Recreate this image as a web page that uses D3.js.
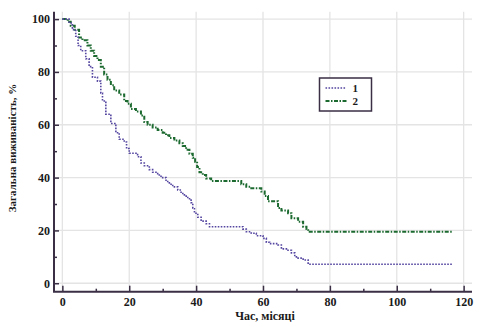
<!DOCTYPE html>
<html><head><meta charset="utf-8">
<script src="https://cdn.jsdelivr.net/npm/d3@7/dist/d3.min.js"></script>
<style>body{margin:0;background:#fff}svg{display:block}</style>
</head><body>
<svg id="c" width="487" height="327"></svg>
<script>
// Series 1 (dotted) step times and survival values
const time1 = [0, 2, 3, 4, 4.7, 5.5, 7, 8, 9, 10.5, 11.5, 12, 13, 14.5, 16, 17, 18.5, 19.2, 20, 22.5, 23.5, 24.5, 26, 27, 28.5, 29.5, 31, 32, 33, 34.5, 35.5, 36.5, 37.5, 38.5, 39, 39.5, 40.5, 41.5, 43, 44, 54, 55, 56.5, 58, 60, 61, 62, 64.5, 65.5, 67, 68.5, 69.5, 70.5, 72, 73.5, 116.5];
const surv1 = [100, 98.5, 96, 93.5, 90, 88, 85, 82, 78, 76.5, 72, 69, 64, 60.5, 57, 54.5, 53.5, 51, 49.2, 47.9, 45.5, 44.5, 43, 42, 41, 40, 38.5, 37.5, 36.5, 35.3, 34, 33, 32, 30.5, 28.5, 26.5, 25, 23.5, 22.5, 21.4, 20.5, 19.5, 18.9, 18, 17, 15.5, 15, 14.5, 13, 12.5, 11.5, 10, 9.5, 8.8, 7.2, 7.2];
// Series 2 (dash-dot)
const time2 = [0, 1.6, 2.5, 3.7, 5, 6, 7.5, 8.5, 9.5, 10.5, 11.5, 12.5, 13.5, 14.5, 15.5, 17, 18.5, 19.5, 20.5, 22, 23.5, 24.5, 25.5, 27, 28.5, 30, 31, 32, 33.5, 35, 36, 37, 38, 39, 39.7, 40.3, 41, 42, 43, 44.5, 53.5, 55, 56.5, 59.5, 60.5, 61.5, 64.5, 65.5, 67.5, 68.5, 70.5, 72, 73, 73.5, 116.5];
const surv2 = [100, 99, 97.5, 96, 93, 92, 90, 88, 86, 84.5, 82, 79, 77, 75, 73, 71.5, 69, 68, 66, 65, 63.5, 61, 60, 59, 58, 57, 56, 55, 54, 53, 52, 50.5, 49, 47.5, 46, 44, 42, 41, 39.7, 38.7, 37.5, 36.5, 36, 34.7, 33, 31, 28.5, 27.5, 26.5, 24.6, 23.3, 21.4, 20.5, 19.5, 19.5];
const seriesNames = ["1", "2"];
const xTicks = [0, 20, 40, 60, 80, 100, 120];
const yTicks = [0, 20, 40, 60, 80, 100];
const xMinor = [10, 30, 50, 70, 90, 110];
const yMinor = [10, 30, 50, 70, 90];
const xTitle = "Час, місяці";
const yTitle = "Загальна виживаність, %";

const svg = d3.select("#c");
const font = "'Liberation Serif','Times New Roman',serif";
const axisCol = "#3a2f45";
const x = d3.scaleLinear().domain([-2.5, 122.5]).range([54, 472]);
const y = d3.scaleLinear().domain([-3.2, 102.8]).range([291.7, 11.7]);

// grid
const grid = svg.append("g");
grid.selectAll("line.v").data(xTicks).join("line")
  .attr("x1", d => x(d)).attr("x2", d => x(d)).attr("y1", y.range()[1]).attr("y2", y.range()[0])
  .attr("stroke", "#e4e4e4").attr("stroke-width", 1.3);
grid.selectAll("line.h").data(yTicks).join("line")
  .attr("y1", d => y(d)).attr("y2", d => y(d)).attr("x1", x.range()[0]).attr("x2", x.range()[1])
  .attr("stroke", "#e4e4e4").attr("stroke-width", 1.3);

// curves
const line = d3.line().x(d => x(d[0])).y(d => y(d[1])).curve(d3.curveStepAfter);
const d1 = time1.map((t, i) => [t, surv1[i]]);
const d2 = time2.map((t, i) => [t, surv2[i]]);
svg.append("path").attr("d", line(d2)).attr("fill", "none")
  .attr("stroke", "#1c6a30").attr("stroke-width", 2).attr("stroke-dasharray", "4,1.5,1.5,1.5");
svg.append("path").attr("d", line(d1)).attr("fill", "none")
  .attr("stroke", "#5446a0").attr("stroke-width", 1.6).attr("stroke-dasharray", "1.6,1.4");

// axes
function styleAxis(g) {
  g.select(".domain").remove();
  g.selectAll(".tick line").attr("stroke", axisCol).attr("stroke-width", 1.5);
  g.selectAll(".tick text").attr("font-family", font).attr("font-weight", "bold")
    .attr("font-size", 12).attr("fill", "#1a1a1a");
}
const yAxisX = x.range()[0], xAxisY = y.range()[0];
svg.append("g").attr("transform", `translate(${yAxisX},0)`)
  .call(d3.axisLeft(y).tickValues(yTicks).tickSize(-5).tickPadding(4)).call(styleAxis);
svg.append("g").attr("transform", `translate(${yAxisX},0)`)
  .call(d3.axisLeft(y).tickValues(yMinor).tickSize(-3).tickFormat("")).call(styleAxis);
svg.append("g").attr("transform", `translate(0,${xAxisY})`)
  .call(d3.axisBottom(x).tickValues(xTicks).tickSize(-6).tickPadding(6)).call(styleAxis);
svg.append("g").attr("transform", `translate(0,${xAxisY})`)
  .call(d3.axisBottom(x).tickValues(xMinor).tickSize(-3).tickFormat("")).call(styleAxis);
svg.append("line").attr("x1", yAxisX).attr("x2", yAxisX).attr("y1", y.range()[1]).attr("y2", xAxisY)
  .attr("stroke", axisCol).attr("stroke-width", 2);
svg.append("line").attr("x1", yAxisX - 1).attr("x2", x.range()[1]).attr("y1", xAxisY).attr("y2", xAxisY)
  .attr("stroke", axisCol).attr("stroke-width", 2);

// titles
svg.append("text").attr("x", 265).attr("y", 320).attr("text-anchor", "middle")
  .attr("font-family", font).attr("font-weight", "bold").attr("font-size", 12).attr("fill", "#1a1a1a")
  .text(xTitle);
svg.append("text").attr("transform", "translate(16,148) rotate(-90)").attr("text-anchor", "middle")
  .attr("font-family", font).attr("font-weight", "bold").attr("font-size", 11).attr("fill", "#1a1a1a")
  .text(yTitle);

// legend
const lg = svg.append("g").attr("transform", "translate(319.5,78)");
lg.append("rect").attr("width", 52).attr("height", 33).attr("fill", "#fff")
  .attr("stroke", axisCol).attr("stroke-width", 1.5);
const styles = [{c: "#5446a0", w: 1.6, da: "1.6,1.4"}, {c: "#1c6a30", w: 2, da: "4,1.5,1.5,1.5"}];
seriesNames.forEach((n, i) => {
  const yy = 10 + i * 13;
  lg.append("line").attr("x1", 6).attr("x2", 27).attr("y1", yy).attr("y2", yy)
    .attr("stroke", styles[i].c).attr("stroke-width", styles[i].w).attr("stroke-dasharray", styles[i].da);
  lg.append("text").attr("x", 33).attr("y", yy + 4).attr("font-family", font).attr("font-weight", "bold")
    .attr("font-size", 11).attr("fill", "#1a1a1a").text(n);
});
</script>
</body></html>
